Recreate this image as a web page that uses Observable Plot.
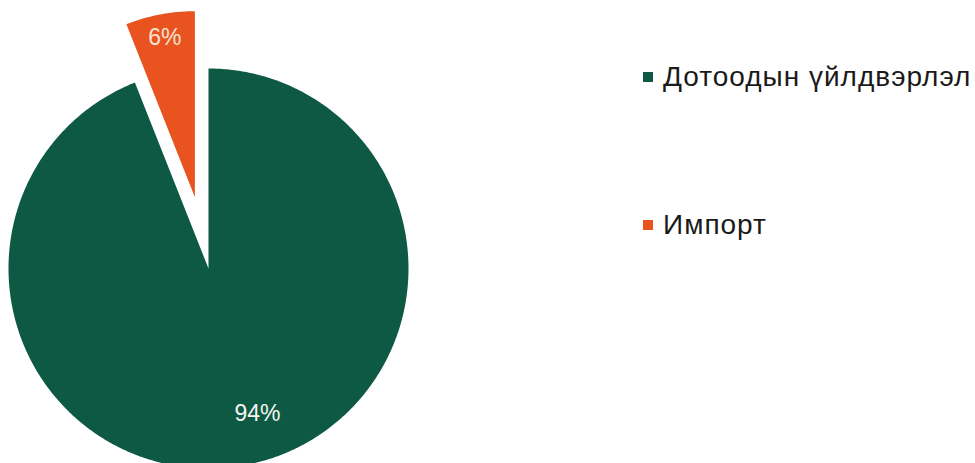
<!DOCTYPE html>
<html>
<head>
<meta charset="utf-8">
<script src="https://cdn.jsdelivr.net/npm/d3@7"></script>
<script src="https://cdn.jsdelivr.net/npm/@observablehq/plot@0.6"></script>
<style>
  html, body { margin: 0; padding: 0; background: #fff; }
  #wrap { position: relative; width: 975px; height: 463px; overflow: hidden; font-family: "Liberation Sans", Arial, Helvetica, sans-serif; }
  #legend { position: absolute; left: 643px; top: 56px; }
  .item { display: flex; align-items: center; height: 42px; margin-bottom: 106px; }
  .sw { width: 10px; height: 10px; margin-right: 10px; }
  .lab { font-size: 28px; letter-spacing: 1px; color: #1a1a1a; }
</style>
</head>
<body>
<div id="wrap">
  <div id="chart"></div>
  <div id="legend"></div>
</div>
<script>
const categories = ["Дотоодын үйлдвэрлэл", "Импорт"];
const values = [94, 6];
const labels = ["94%", "6%"];
const colors = ["#0d5943", "#e8531f"];

// exploded-slice styling
const explode = [0, 0.363];
const radius = [1, 0.93];

const pie = d3.pie().sort(null).value(d => d.value)(
  categories.map((c, i) => ({ key: c, value: values[i], label: labels[i], i }))
);

const pts = [];
const labs = [];
for (const s of pie) {
  const i = s.data.i;
  const mid = (s.startAngle + s.endAngle) / 2;
  const ox = explode[i] * Math.sin(mid), oy = explode[i] * Math.cos(mid);
  pts.push({ key: s.data.key, x: ox, y: oy });
  const n = Math.max(4, Math.ceil((s.endAngle - s.startAngle) / 0.01));
  for (let k = 0; k <= n; k++) {
    const a = s.startAngle + (s.endAngle - s.startAngle) * k / n;
    pts.push({ key: s.data.key, x: ox + radius[i] * Math.sin(a), y: oy + radius[i] * Math.cos(a) });
  }
  const lr = 0.8;
  labs.push({ key: s.data.key, label: s.data.label, i, x: ox + lr * Math.sin(mid), y: oy + lr * Math.cos(mid) });
}

const chart = Plot.plot({
  width: 975,
  height: 463,
  margin: 0,
  x: { domain: [-1, 1], range: [8, 408], axis: null },
  y: { domain: [-1, 1], range: [468, 68], axis: null },
  color: { domain: categories, range: colors },
  style: { fontFamily: "Liberation Sans, Arial, sans-serif", background: "#fff" },
  marks: [
    Plot.line(pts, { x: "x", y: "y", z: "key", fill: "key", stroke: null, curve: "linear-closed" }),
    Plot.text(labs.filter(d => d.i === 0), { x: "x", y: "y", text: "label", fill: "#f4f4f0", fontSize: 23, dx: 19, dy: -12 }),
    Plot.text(labs.filter(d => d.i === 1), { x: "x", y: "y", text: "label", fill: "#f8e2d2", fontSize: 23, dy: -2 })
  ]
});
document.getElementById("chart").appendChild(chart);

const lg = d3.select("#legend");
categories.forEach((c, i) => {
  const it = lg.append("div").attr("class", "item");
  it.append("div").attr("class", "sw").style("background", colors[i]);
  it.append("div").attr("class", "lab").text(c);
});
</script>
</body>
</html>
